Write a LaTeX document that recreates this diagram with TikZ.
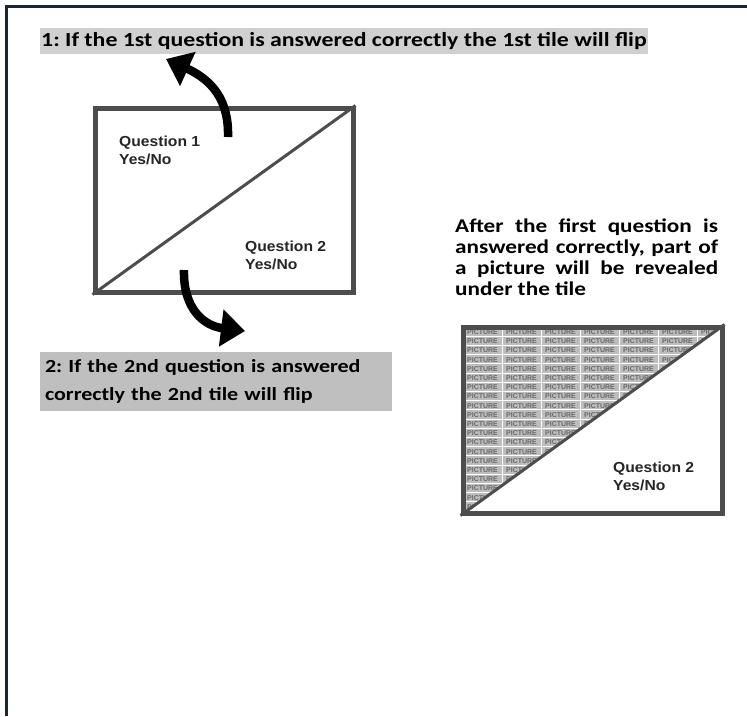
\documentclass[tikz,border=0pt]{standalone}
\usepackage{fontspec}
\setmainfont{Carlito}
\newfontfamily\labfont{Carlito}[FakeStretch=1.19]
\newfontfamily\qfont{Liberation Sans}[FakeStretch=1.08]
\newfontfamily\picfont{Liberation Sans}
\usetikzlibrary{arrows.meta}
\frenchspacing
\definecolor{framecol}{HTML}{1B2631}
\definecolor{tileborder}{HTML}{4D4D4D}
\definecolor{labelgray}{HTML}{D0D0D0}
\definecolor{labelgraytwo}{HTML}{BFBFBF}
\definecolor{picbg}{HTML}{BDBDBD}
\definecolor{pictext}{HTML}{686868}
\tikzset{
  tile/.style={draw=tileborder, line width=5pt, inner sep=0pt},
  diag/.style={draw=tileborder, line width=3pt},
  qlabel/.style={font=\qfont\bfseries\fontsize{14.5}{18}\selectfont, align=left, anchor=north west, inner sep=0pt, text=black!85},
  flip/.style={line width=8.5pt, -{Triangle[width=36pt,length=24pt]}},
  pic/.style={font=\picfont\bfseries\fontsize{7}{7}\selectfont, text=pictext, inner sep=0pt},
}
\begin{document}
\begin{tikzpicture}[x=1pt,y=-1pt]
\fill[white] (0,0) rectangle (747,716);
\useasboundingbox (0,0) rectangle (747,716);
% outer frame (left and top edges only)
\draw[framecol, line width=3pt] (6,716) -- (6,6.5) -- (747,6.5);

% top label
\node[fill=labelgray, minimum width=608pt, minimum height=26pt, inner sep=0pt,
      font=\labfont\bfseries\fontsize{20}{22}\selectfont] (lab1) at (344,41)
      {1: If the 1st question is answered correctly the 1st tile will flip};

% tile 1
\node[tile, minimum width=258pt, minimum height=184pt] (tile1) at (224,200) {};
\draw[diag] (tile1.south west) -- (tile1.north east);
\node[qlabel] (q1) at (119,136) {Question 1\\Yes/No};
\node[qlabel] (q2a) at (245,241) {Question 2\\Yes/No};

% flip arrows
\coordinate (a1s) at (228,137);
\coordinate (a1e) at (166,59);
\draw[flip] (a1s) .. controls (229,100) and (212,80) .. (a1e);
\coordinate (a2s) at (184,270);
\coordinate (a2e) at (245,331);
\draw[flip] (a2s) .. controls (183,310) and (205,326) .. (a2e);

% bottom label
\node[fill=labelgraytwo, minimum width=352pt, minimum height=59pt, text width=342pt,
      align=left, inner sep=0pt, font=\labfont\bfseries\fontsize{18.5}{28}\selectfont] (lab2) at (216,381)
      {2: If the 2nd question is answered\\correctly the 2nd tile will flip};

% right explanation
\node[anchor=north west, inner sep=0pt, align=left,
      font=\labfont\bfseries\fontsize{19.5}{21}\selectfont] (info) at (455,219)
  {\makebox[263pt][s]{After the first question is}\\
   \makebox[263pt][s]{answered correctly, part of}\\
   \makebox[263pt][s]{a picture will be revealed}\\
   under the tile};

% tile 2 with picture
\begin{scope}
  \clip (463,327) -- (722,327) -- (463,513) -- cycle;
  \fill[picbg] (463,327) rectangle (722,513);
  \foreach \r in {0,...,20} {
    \foreach \c in {0,...,6} {
      \pgfmathtruncatemacro{\inside}{(\c*39/259 + \r*9.2/186) < 1 ? 1 : 0}
      \ifnum\inside=1
        \node[pic] (p-\r-\c) at (463+19.5+\c*39, 327+5+\r*9.2) {PICTURE};
      \fi
    }
    \draw[white, line width=0.9pt] (463,327+\r*9.2) -- (722,327+\r*9.2);
  }
  \foreach \c in {1,...,6} {
    \draw[white, line width=0.9pt] (463+\c*39,327) -- (463+\c*39,513);
  }
\end{scope}
\node[tile, minimum width=259pt, minimum height=186pt] (tile2) at (592.5,420) {};
\draw[diag] (tile2.south west) -- (tile2.north east);
\node[qlabel] (q2b) at (613,462) {Question 2\\Yes/No};
\end{tikzpicture}
\end{document}
